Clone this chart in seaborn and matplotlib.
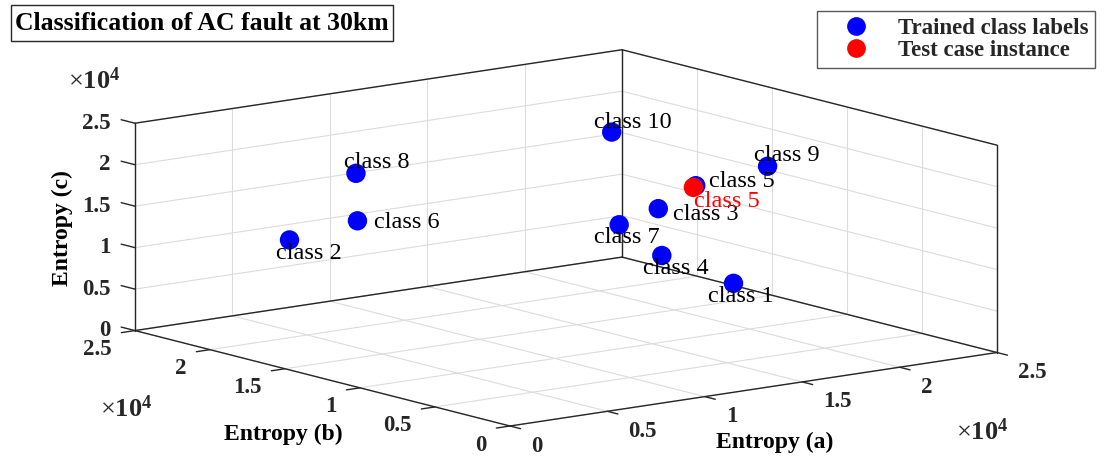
import numpy as np
import matplotlib
matplotlib.use("Agg")
import matplotlib.pyplot as plt
import seaborn as sns
from matplotlib.lines import Line2D
from matplotlib.patches import Rectangle
from matplotlib.transforms import offset_copy
from mpl_toolkits.mplot3d import proj3d

# ---------------- data ----------------
class_names = ["class 1", "class 2", "class 3", "class 4", "class 5",
               "class 6", "class 7", "class 8", "class 9", "class 10"]
entropy_a = [14000, 5000, 17000, 13000, 18000, 6000, 16000, 5000, 20000, 20000]
entropy_b = [3280, 21190, 12190, 6760, 10990, 17960, 13500, 16760, 8800, 19190]
entropy_c = [10730, 10910, 14570, 12840, 17540, 14350, 12380, 20980, 20180, 19520]

test_name = "class 5"
test_a = [18000]
test_b = [11150]
test_c = [17260]

tick_values = [0, 5000, 10000, 15000, 20000, 25000]
tick_labels = ["0", "0.5", "1", "1.5", "2", "2.5"]
axis_max = 25000

legend_labels = ["Trained class labels", "Test case instance"]
title_text = "Classification of AC fault at 30km"

# label offsets in pixels (x right, y up) relative to each point
label_offsets = [(-26, -13), (-14, -14), (15, -6), (-19, -13), (13, 4),
                 (17, -2), (-25, -13), (-12, 11), (-14, 11), (-18, 10)]
test_offset = (1, -14)

# ---------------- style ----------------
sns.set_theme(style="white")
plt.rcParams["font.family"] = ["Liberation Serif", "DejaVu Serif"]
plt.rcParams["mathtext.fontset"] = "custom"
plt.rcParams["mathtext.rm"] = "Liberation Serif"
plt.rcParams["mathtext.bf"] = "Liberation Serif:bold"

BLUE = "#0000ff"
RED = "#ff0000"
DARK = "#262626"
GRID = "#dcdcdc"

W, H = 1105, 461
fig = plt.figure(figsize=(W / 100, H / 100), dpi=100)
fig.patch.set_facecolor("white")


def fig_xy(x, y):
    return x / W, 1 - y / H


ax = fig.add_axes([0, 0, 1, 1], projection="3d", proj_type="ortho")
ax.view_init(elev=11.3, azim=-127.6)
ax.set_box_aspect((1, 1, 0.344))
ax.set_xlim(0, axis_max)
ax.set_ylim(0, axis_max)
ax.set_zlim(0, axis_max)
ax.set_axis_off()
ax.computed_zorder = False

grid_kw = dict(color=GRID, lw=0.8, zorder=1, clip_on=False)
box_kw = dict(color=DARK, lw=1.0, zorder=2, clip_on=False)
M_ = axis_max

# grid on the three back planes
for t in tick_values:
    ax.plot([t, t], [0, M_], [0, 0], **grid_kw)
    ax.plot([0, M_], [t, t], [0, 0], **grid_kw)
    ax.plot([t, t], [M_, M_], [0, M_], **grid_kw)
    ax.plot([0, M_], [M_, M_], [t, t], **grid_kw)
    ax.plot([M_, M_], [t, t], [0, M_], **grid_kw)
    ax.plot([M_, M_], [0, M_], [t, t], **grid_kw)

# box edges
edges = [
    ([0, M_], [0, 0], [0, 0]),
    ([0, 0], [0, M_], [0, 0]),
    ([0, 0], [M_, M_], [0, M_]),
    ([0, M_], [M_, M_], [M_, M_]),
    ([M_, M_], [M_, 0], [M_, M_]),
    ([M_, M_], [M_, M_], [0, M_]),
    ([M_, M_], [0, 0], [0, M_]),
    ([0, M_], [M_, M_], [0, 0]),
    ([M_, M_], [M_, 0], [0, 0]),
]
for ex, ey, ez in edges:
    ax.plot(ex, ey, ez, **box_kw)

# tick marks
for t in tick_values:
    ax.plot([t, t], [0, -700], [0, 0], **box_kw)
    ax.plot([0, -700], [t, t], [0, 0], **box_kw)
    ax.plot([0, 0], [M_, M_ + 920], [t, t], **box_kw)


def off(dx, dy):
    return offset_copy(ax.transData, x=dx, y=dy, units="dots")


tick_kw = dict(fontsize=16.5, fontweight="bold", color=DARK, va="center")
for t, lab in zip(tick_values, tick_labels):
    ax.text(t, 0, 0, lab, transform=off(21, -20), ha="left", **tick_kw)
    ax.text(0, t, 0, lab, transform=off(-23, -19), ha="right", **tick_kw)
    ax.text(0, M_, t, lab, transform=off(-24, 0), ha="right", **tick_kw)

# points
ax.scatter(entropy_a, entropy_b, entropy_c, s=195, c=BLUE, depthshade=False,
           edgecolors="none", zorder=3, clip_on=False)
ax.scatter(test_a, test_b, test_c, s=195, c=RED, depthshade=False,
           edgecolors="none", zorder=4, clip_on=False)

for name, a, b, c, (dx, dy) in zip(class_names, entropy_a, entropy_b, entropy_c, label_offsets):
    ax.text(a, b, c, name, transform=off(dx, dy), ha="left", va="center",
            fontsize=17.5, color="black", zorder=5)
ax.text(test_a[0], test_b[0], test_c[0], test_name, transform=off(*test_offset),
        ha="left", va="center", fontsize=17.5, color=RED, zorder=6)

# axis labels and multipliers
lab_kw = dict(fontsize=17, fontweight="bold", color="black", ha="center", va="center")
fig.text(*fig_xy(62.5, 228), "Entropy (c)", rotation=90, **lab_kw)
fig.text(*fig_xy(283, 434), "Entropy (b)", **lab_kw)
fig.text(*fig_xy(775, 442), "Entropy (a)", **lab_kw)
mult = r"$\times\mathbf{10^{4}}$"
mult_kw = dict(fontsize=19, color=DARK, ha="center", va="center")
fig.text(*fig_xy(94, 81), mult, **mult_kw)
fig.text(*fig_xy(126, 409), mult, **mult_kw)
fig.text(*fig_xy(982, 432), mult, **mult_kw)

# title box
fig.add_artist(Rectangle(fig_xy(11, 41), 382 / W, 36 / H, transform=fig.transFigure,
                         fc="white", ec=DARK, lw=1.0, zorder=2))
fig.text(*fig_xy(202, 23), title_text, ha="center", va="center", fontsize=18.5,
         fontweight="bold", color="black", zorder=3)

# legend
handles = [Line2D([], [], ls="", marker="o", ms=13.5, mfc=BLUE, mec="none"),
           Line2D([], [], ls="", marker="o", ms=13.5, mfc=RED, mec="none")]
leg = fig.legend(handles, legend_labels, loc="upper right",
                 bbox_to_anchor=fig_xy(1095, 11), frameon=True, fancybox=False,
                 edgecolor="#595959", framealpha=1,
                 prop=dict(family="Liberation Serif", weight="bold", size=16.5),
                 borderpad=0.3, handlelength=2.8, handletextpad=0.4,
                 labelspacing=0.05, borderaxespad=0)
leg.get_frame().set_linewidth(1.0)


# ---------------- calibrate axes placement ----------------
def calibrate(front_px=(510, H - 426), right_px=(997, H - 353)):
    fig.canvas.draw()
    M = ax.get_proj()
    xs = np.array([0.0, axis_max])
    ys = np.array([0.0, 0.0])
    zs = np.array([0.0, 0.0])
    x2, y2, _ = proj3d.proj_transform(xs, ys, zs, M)
    pts = ax.transData.transform(np.column_stack([x2, y2]))
    bb = ax.bbox
    s = (right_px[0] - front_px[0]) / (pts[1, 0] - pts[0, 0])
    nw, nh = bb.width * s, bb.height * s
    nx0 = front_px[0] - s * (pts[0, 0] - bb.x0)
    ny0 = front_px[1] - s * (pts[0, 1] - bb.y0)
    ax.set_position([nx0 / W, ny0 / H, nw / W, nh / H])


calibrate()
calibrate()

fig.savefig("out.png", dpi=100, facecolor="white")
